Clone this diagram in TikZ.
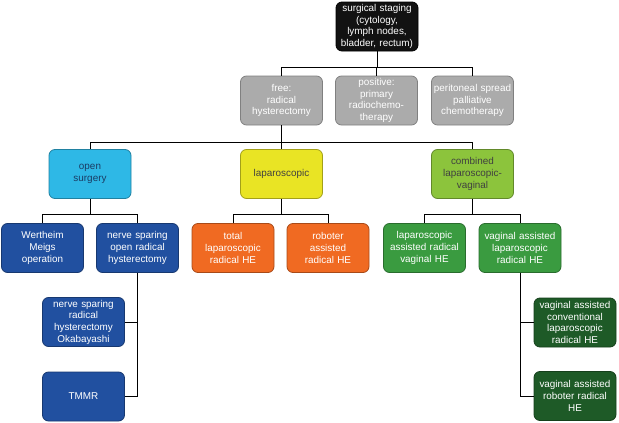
\documentclass[tikz,border=0pt]{standalone}
\usepackage{fontspec}
\setmainfont{Liberation Sans}
\definecolor{cblack}{HTML}{121212}
\definecolor{cgray}{HTML}{ABABAB}
\definecolor{ccyan}{HTML}{2EB8E6}
\definecolor{cyellow}{HTML}{E9E424}
\definecolor{clime}{HTML}{8CC43C}
\definecolor{cblue}{HTML}{2150A0}
\definecolor{corange}{HTML}{F06A22}
\definecolor{cgreen}{HTML}{3A9B40}
\definecolor{cdgreen}{HTML}{1E5A27}
\definecolor{cnavy}{HTML}{1B3C64}
\begin{document}
\begin{tikzpicture}[x=1pt,y=-1pt,
  box/.style={rounded corners=6pt, line width=0.8pt, align=center,
    minimum width=82pt, minimum height=49pt, inner sep=0.5pt, text width=81pt,
    font=\fontsize{9.9}{11.7}\selectfont},
  bk/.style={box, fill=cblack, draw=black, text=white},
  gr/.style={box, fill=cgray, draw=cgray!75!black, text=white},
  cy/.style={box, fill=ccyan, draw=ccyan!70!black, text=cnavy},
  ye/.style={box, fill=cyellow, draw=cyellow!70!black, text=black!75},
  li/.style={box, fill=clime, draw=clime!70!black, text=black!75},
  bl/.style={box, fill=cblue, draw=cblue!70!black, text=white},
  or/.style={box, fill=corange, draw=corange!70!black, text=white},
  gn/.style={box, fill=cgreen, draw=cgreen!70!black, text=white},
  dg/.style={box, fill=cdgreen, draw=cdgreen!70!black, text=white},
  conn/.style={draw=black, line width=0.9pt}]
\useasboundingbox (0,0) rectangle (619,423);
% level 0
\node[bk] (top) at (377,26.5) {surgical staging\\(cytology,\\lymph nodes,\\bladder, rectum)};
% level 1
\node[gr] (free) at (281.5,100.5) {free:\\radical\\hysterectomy};
\node[gr] (pos) at (376.5,100.5) {positive:\\primary\\radiochemo-\\therapy};
\node[gr] (peri) at (472.5,100.5) {peritoneal spread\\palliative\\chemotherapy};
% level 2
\node[cy] (open) at (90,174) {open\\surgery};
\node[ye] (lap) at (281.5,174) {laparoscopic};
\node[li] (comb) at (472.5,174) {combined\\laparoscopic-\\vaginal};
% level 3
\node[bl] (wert) at (42.5,248) {Wertheim\\Meigs\\operation};
\node[bl] (nerve) at (137.5,248) {nerve sparing\\open radical\\hysterectomy};
\node[or] (total) at (233,248) {total\\laparoscopic\\radical HE};
\node[or] (robot) at (328,248) {roboter\\assisted\\radical HE};
\node[gn] (lapas) at (424.5,248) {laparoscopic\\assisted radical\\vaginal HE};
\node[gn] (vagas) at (520,248) {vaginal assisted\\laparoscopic\\radical HE};
% level 4
\node[bl] (oka) at (83.5,322) {nerve sparing\\radical\\hysterectomy\\Okabayashi};
\node[bl] (tmmr) at (83.5,396.5) {TMMR};
\node[dg] (conv) at (575,322.5) {vaginal assisted\\conventional\\laparoscopic\\radical HE};
\node[dg] (rob2) at (575,396) {vaginal assisted\\roboter radical\\HE};
% connectors
\draw[conn] (top.south) -- ++(0,16) -| (free.north);
\draw[conn] (top.south) -- ++(0,16) -| (pos.north);
\draw[conn] (top.south) -- ++(0,16) -| (peri.north);
\draw[conn] (free.south) -- ++(0,17) -| (open.north);
\draw[conn] (free.south) -- ++(0,17) -| (lap.north);
\draw[conn] (free.south) -- ++(0,17) -| (comb.north);
\draw[conn] (open.south) -- ++(0,16) -| (wert.north);
\draw[conn] (open.south) -- ++(0,16) -| (nerve.north);
\draw[conn] (lap.south) -- ++(0,16) -| (total.north);
\draw[conn] (lap.south) -- ++(0,16) -| (robot.north);
\draw[conn] (comb.south) -- ++(0,16) -| (lapas.north);
\draw[conn] (comb.south) -- ++(0,16) -| (vagas.north);
\draw[conn] (nerve.south) |- (oka.east);
\draw[conn] (nerve.south) |- (tmmr.east);
\draw[conn] (vagas.south) |- (conv.west);
\draw[conn] (vagas.south) |- (rob2.west);
\end{tikzpicture}
\end{document}
